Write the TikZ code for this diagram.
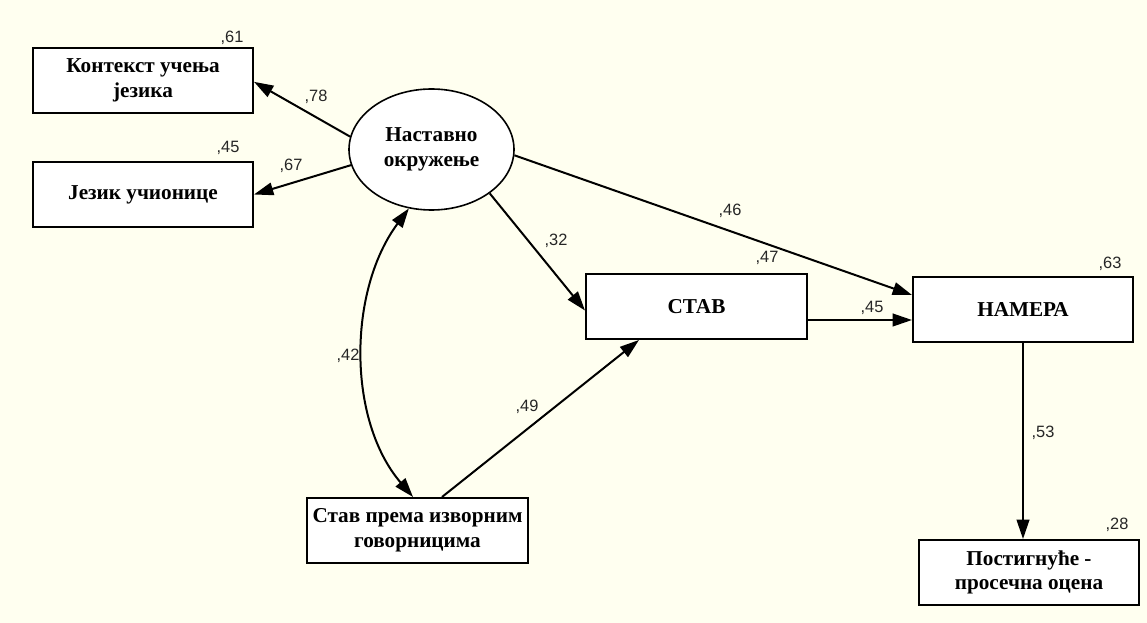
\documentclass[tikz,border=0pt]{standalone}
\usepackage{fontspec}
\setmainfont{Liberation Serif}
\newfontfamily\labfont{Liberation Sans}
\usetikzlibrary{arrows.meta,calc,shapes.geometric}
\definecolor{bgc}{HTML}{FFFFF0}
\begin{document}
\begin{tikzpicture}[x=0.75pt,y=-0.75pt,
  box/.style={draw, line width=1.5pt, fill=white, minimum width=165pt, minimum height=48.75pt,
    align=center, inner sep=0pt, font=\fontsize{15.9}{18.5}\selectfont\bfseries},
  latent/.style={ellipse, draw, line width=1.2pt, fill=white, minimum width=123.75pt, minimum height=90.75pt,
    align=center, inner sep=0pt, font=\fontsize{15.9}{19}\selectfont\bfseries},
  lbl/.style={font=\labfont\fontsize{12.3}{13}\selectfont, text=black!85, inner sep=0pt},
  arr/.style={line width=1.5pt, -{Triangle[length=14.5pt,width=9.5pt]}},
  darr/.style={line width=1.5pt, {Triangle[length=14.5pt,width=9.5pt]}-{Triangle[length=14.5pt,width=9.5pt]}}]
\useasboundingbox (0,0) rectangle (1147,623);
\fill[bgc] (0,0) rectangle (1147,623);

\node[box] (ctx) at (143,80.5) {Контекст учења\\језика};
\node[box] (jez) at (143,194.5) {Језик учионице};
\node[latent] (nast) at (431.5,149.5) {Наставно\\окружење};
\node[box, minimum width=165.75pt] (stav) at (696.5,306.5) {СТАВ};
\node[box] (nam) at (1023,309.5) {НАМЕРА};
\node[box, minimum width=165.75pt] (izv) at (417.5,530.5) {Став према изворним\\говорницима};
\node[box] (post) at (1029,572.5) {Постигнуће -\\просечна оцена};

\draw[arr] (nast.171) -- ([yshift=-1pt]ctx.east);
\draw[arr] (nast.191) -- (jez.east);
\draw[arr] (nast.356) -- ($(nam.west)+(0,-14.5)$);
\draw[arr] (nast.323) -- ($(stav.west)+(0,4)$);
\coordinate (s45) at ($(stav.east)+(0,13.5)$);
\draw[arr] (s45) -- (s45 -| nam.west);
\draw[arr] (nam.south) -- (nam.south |- post.north);
\draw[arr] ($(izv.north)+(24.5,0)$) -- ($(stav.south)+(-57.5,0)$);
\coordinate (ctop) at (nast.249);
\coordinate (cbot) at ($(izv.north)+(-4.5,0)$);
\draw[darr] (ctop) .. controls ($(ctop)+(-61,82)$) and ($(cbot)+(-66,-77)$) .. (cbot);

\node[lbl] (l61) at (232,38) {,61};
\node[lbl] (l45a) at (228,148) {,45};
\node[lbl] (l78) at (316,97) {,78};
\node[lbl] (l67) at (291,166) {,67};
\node[lbl] (l46) at (730,211) {,46};
\node[lbl] (l32) at (556,241) {,32};
\node[lbl] (l47) at (767,258) {,47};
\node[lbl] (l63) at (1110,264) {,63};
\node[lbl] (l45b) at (872,308) {,45};
\node[lbl] (l42) at (348,356) {,42};
\node[lbl] (l49) at (527,407) {,49};
\node[lbl] (l53) at (1043,433) {,53};
\node[lbl] (l28) at (1117,525) {,28};
\end{tikzpicture}
\end{document}
